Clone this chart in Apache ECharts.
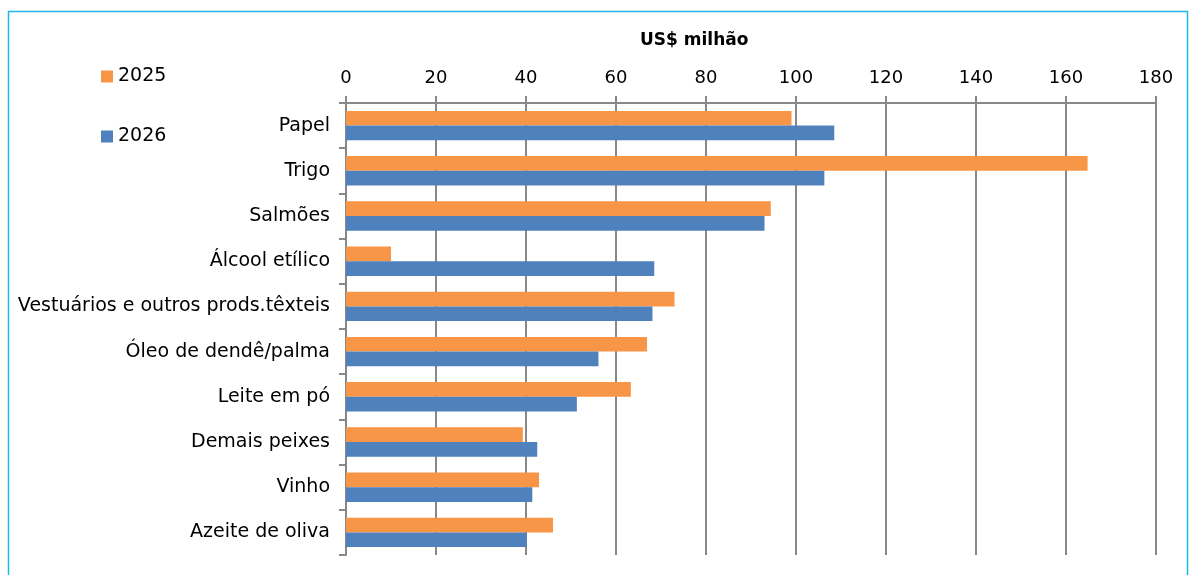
<!DOCTYPE html>
<html><head><meta charset="utf-8">
<script src="https://cdn.jsdelivr.net/npm/echarts@6/dist/echarts.min.js"></script>
<style>html,body{margin:0;padding:0;background:#fff}#c{width:1192px;height:575px}</style>
</head><body><div id="c"></div>
<script>
const categories = ["Papel","Trigo","Salmões","Álcool etílico","Vestuários e outros prods.têxteis","Óleo de dendê/palma","Leite em pó","Demais peixes","Vinho","Azeite de oliva"];
const values2025 = [99.0,164.8,94.4,10.0,73.0,66.9,63.3,39.3,42.9,46.0];
const values2026 = [108.5,106.3,93.0,68.5,68.1,56.1,51.3,42.5,41.4,40.2];
const seriesNames = ["2025","2026"];
const axisTitle = "US$ milhão";

const font = "DejaVu Sans";
const chart = echarts.init(document.getElementById('c'), null, {renderer:'canvas'});
chart.setOption({
  animation:false,
  textStyle:{fontFamily:font},
  graphic:[{type:'rect',shape:{x:8.5,y:11.5,width:1179,height:580},style:{fill:'none',stroke:'#22B5EC',lineWidth:1.5}},
           {type:'text',left:640,top:32,style:{text:axisTitle,fontFamily:font,fontSize:17,fontWeight:'bold',fill:'#000'}}],
  legend:{orient:'vertical',left:96,top:62,itemWidth:12,itemHeight:12,itemGap:41,icon:'rect',
    textStyle:{fontFamily:font,fontSize:19,color:'#000'},data:seriesNames},
  grid:{left:346,right:36,top:103,bottom:20},
  xAxis:{type:'value',position:'top',min:0,max:180,interval:20,
    axisLine:{show:true,lineStyle:{color:'#888',width:2}},
    axisTick:{show:true,length:7,lineStyle:{color:'#888',width:2}},
    axisLabel:{fontFamily:font,fontSize:18,color:'#000',margin:16},
    splitLine:{show:true,lineStyle:{color:'#888',width:2}}},
  yAxis:{type:'category',inverse:true,data:categories,
    axisLine:{show:true,lineStyle:{color:'#888',width:2}},
    axisTick:{show:true,length:7,lineStyle:{color:'#888',width:2}},
    axisLabel:{fontFamily:font,fontSize:19,color:'#000',margin:16}},
  series:[
    {name:seriesNames[0],type:'bar',data:values2025,barGap:'0%',barCategoryGap:'35%',itemStyle:{color:'#F79646'}},
    {name:seriesNames[1],type:'bar',data:values2026,barGap:'0%',barCategoryGap:'35%',itemStyle:{color:'#4F81BD'}}
  ]
});
</script></body></html>
